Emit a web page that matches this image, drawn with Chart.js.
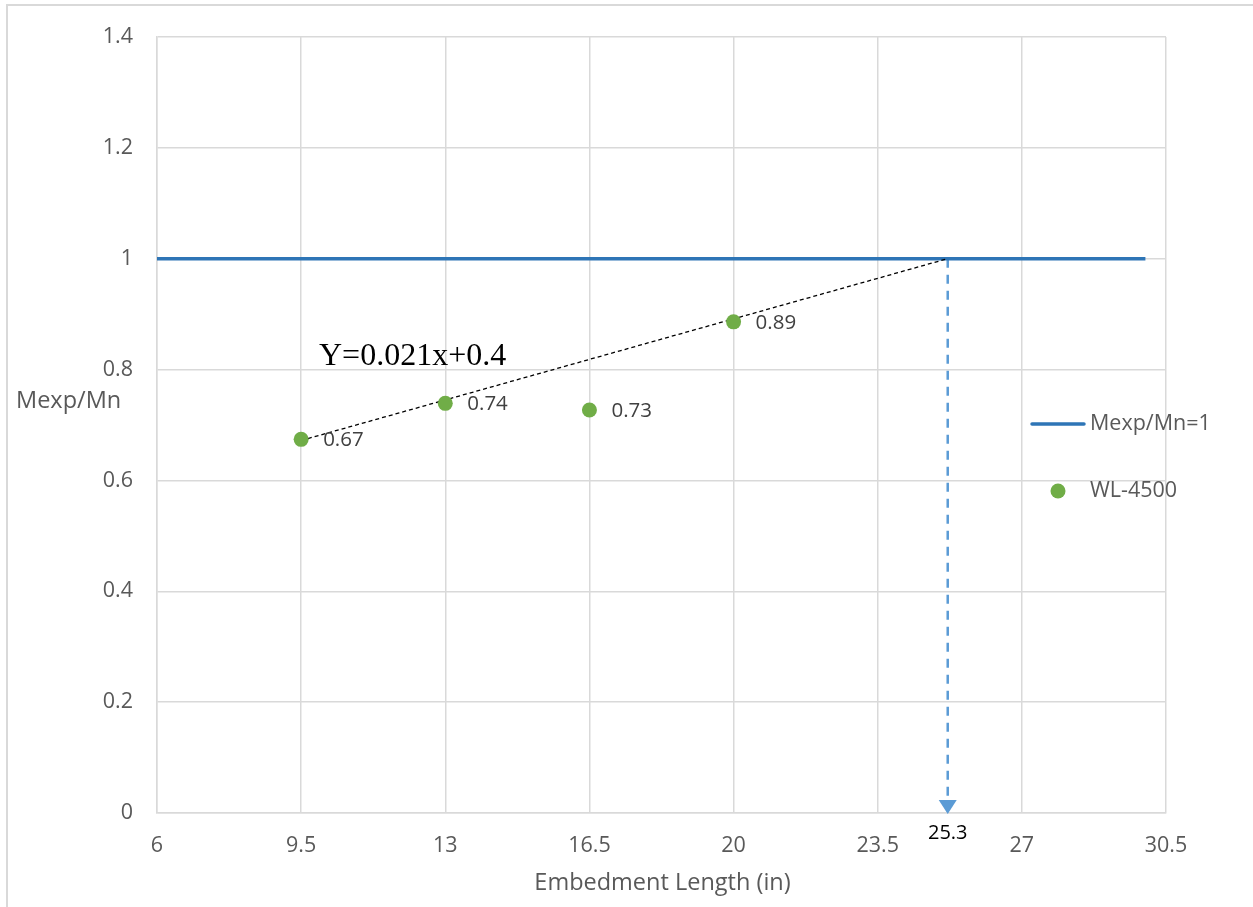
<!DOCTYPE html>
<html>
<head>
<meta charset="utf-8">
<script src="https://cdn.jsdelivr.net/npm/chart.js@4"></script>
<style>
  body { margin: 0; background: #fff; }
  canvas { display: block; }
</style>
</head>
<body>
<canvas id="chart" width="1253" height="907"></canvas>
<script>
// dati
const embedLength = [9.5, 13, 16.5, 20];
const mRatio = [0.674, 0.739, 0.727, 0.886];
const pointLabels = ['0.67', '0.74', '0.73', '0.89'];

// linea di riferimento Mexp/Mn = 1
const refX = [6, 30];
const refY = [1, 1];

// retta di tendenza Y=0.021x+0.4
const trendX = [9.5, 25.2];
const trendY = [0.672, 1.0];
const equation = 'Y=0.021x+0.4';

// intersezione con Mexp/Mn = 1
const markX = [25.2, 25.2];
const markY = [1, 0];
const markLabel = '25.3';

const xMin = 6, xMax = 30.5, xStep = 3.5;
const yMin = 0, yMax = 1.4, yStep = 0.2;

const toXY = (xs, ys) => xs.map((x, i) => ({ x: x, y: ys[i] }));
const fmt = v => String(+Number(v).toFixed(1));

const FONT = "'Open Sans', sans-serif";
const GRID = '#d9d9d9';

const extras = {
    id: 'extras',
    beforeDraw(chart) {
        const ctx = chart.ctx;
        ctx.save();
        ctx.fillStyle = '#fff';
        ctx.fillRect(0, 0, chart.width, chart.height);
        ctx.strokeStyle = GRID;
        ctx.lineWidth = 2;
        ctx.beginPath();
        ctx.moveTo(7, chart.height);
        ctx.lineTo(7, 5);
        ctx.lineTo(chart.width, 5);
        ctx.stroke();
        ctx.restore();
    },
    afterDraw(chart) {
        const ctx = chart.ctx;
        const xs = chart.scales.x, ys = chart.scales.y;
        const area = chart.chartArea;
        ctx.save();

        // punta della freccia
        const ax = xs.getPixelForValue(markX[1]);
        const ay = ys.getPixelForValue(markY[1]);
        ctx.fillStyle = '#5B9BD5';
        ctx.beginPath();
        ctx.moveTo(ax - 9, ay - 13);
        ctx.lineTo(ax + 9, ay - 13);
        ctx.lineTo(ax, ay + 1);
        ctx.closePath();
        ctx.fill();

        // etichetta 25.3
        ctx.fillStyle = '#000';
        ctx.font = '20px ' + FONT;
        ctx.textAlign = 'center';
        ctx.textBaseline = 'middle';
        ctx.fillText(markLabel, ax, ay + 20);

        // etichette dei punti
        ctx.fillStyle = '#404040';
        ctx.textAlign = 'left';
        ctx.font = '20.5px ' + FONT;
        embedLength.forEach((x, i) => {
            const px = xs.getPixelForValue(x);
            const py = ys.getPixelForValue(mRatio[i]);
            ctx.fillText(pointLabels[i], px + 22, py + 1);
        });

        // equazione
        ctx.fillStyle = '#000';
        ctx.font = "32px 'Liberation Serif', serif";
        ctx.textBaseline = 'alphabetic';
        ctx.fillText(equation, 319, 365);

        // titoli degli assi
        ctx.fillStyle = '#595959';
        ctx.font = '23.5px ' + FONT;
        ctx.textBaseline = 'middle';
        ctx.textAlign = 'left';
        ctx.fillText('Mexp/Mn', 16, 401);
        ctx.textAlign = 'center';
        ctx.fillText('Embedment Length (in)', (area.left + area.right) / 2 + 1, 883);

        // legenda
        const ds = chart.data.datasets;
        ctx.font = '21.5px ' + FONT;
        ctx.textAlign = 'left';
        ctx.strokeStyle = '#2E75B6';
        ctx.lineWidth = 3.5;
        ctx.lineCap = 'round';
        ctx.beginPath();
        ctx.moveTo(1032, 424);
        ctx.lineTo(1084, 424);
        ctx.stroke();
        ctx.fillStyle = '#595959';
        ctx.fillText(ds[0].label, 1090, 424);
        ctx.fillStyle = '#70AD47';
        ctx.beginPath();
        ctx.arc(1058, 491, 7.5, 0, Math.PI * 2);
        ctx.fill();
        ctx.fillStyle = '#595959';
        ctx.fillText(ds[1].label, 1090, 491);

        ctx.restore();
    }
};

const data = {
    datasets: [{
        label: 'Mexp/Mn=1',
        type: 'line',
        data: toXY(refX, refY),
        borderColor: '#2E75B6',
        borderWidth: 3.5,
        pointRadius: 0,
        order: 2
    }, {
        label: 'WL-4500',
        type: 'scatter',
        data: toXY(embedLength, mRatio),
        backgroundColor: '#70AD47',
        borderWidth: 0,
        pointRadius: 7.5,
        pointHoverRadius: 7.5,
        order: 0
    }, {
        label: 'trend',
        type: 'line',
        data: toXY(trendX, trendY),
        borderColor: '#000',
        borderWidth: 1.3,
        borderDash: [4, 3],
        pointRadius: 0,
        order: 1
    }, {
        label: 'mark',
        type: 'line',
        data: toXY(markX, markY),
        borderColor: '#5B9BD5',
        borderWidth: 2.5,
        borderDash: [9, 7],
        pointRadius: 0,
        order: 3
    }]
};

const config = {
    type: 'scatter',
    data,
    plugins: [extras],
    options: {
        responsive: false,
        animation: false,
        devicePixelRatio: 1,
        layout: { padding: { left: 0, top: 34, right: 87, bottom: 0 } },
        plugins: {
            legend: { display: false },
            tooltip: { enabled: false }
        },
        scales: {
            x: {
                type: 'linear',
                min: xMin,
                max: xMax,
                afterFit: s => { s.height = 94; },
                afterBuildTicks: s => {
                    s.ticks = [];
                    for (let v = xMin; v <= xMax + 1e-9; v += xStep) s.ticks.push({ value: +v.toFixed(2) });
                },
                grid: { color: GRID, lineWidth: 1.5, drawTicks: false },
                border: { color: GRID, width: 1.5 },
                ticks: {
                    color: '#595959',
                    font: { family: FONT, size: 21.5 },
                    padding: 20,
                    maxRotation: 0,
                    callback: fmt
                }
            },
            y: {
                min: yMin,
                max: yMax,
                afterFit: s => { s.width = 157; },
                afterBuildTicks: s => {
                    s.ticks = [];
                    for (let v = yMin; v <= yMax + 1e-9; v += yStep) s.ticks.push({ value: +v.toFixed(2) });
                },
                grid: { color: GRID, lineWidth: 1.5, drawTicks: false },
                border: { color: GRID, width: 1.5 },
                ticks: {
                    color: '#595959',
                    font: { family: FONT, size: 21.5 },
                    padding: 24,
                    callback: fmt
                }
            }
        }
    }
};

const myChart = new Chart(document.getElementById('chart'), config);
</script>
</body>
</html>
